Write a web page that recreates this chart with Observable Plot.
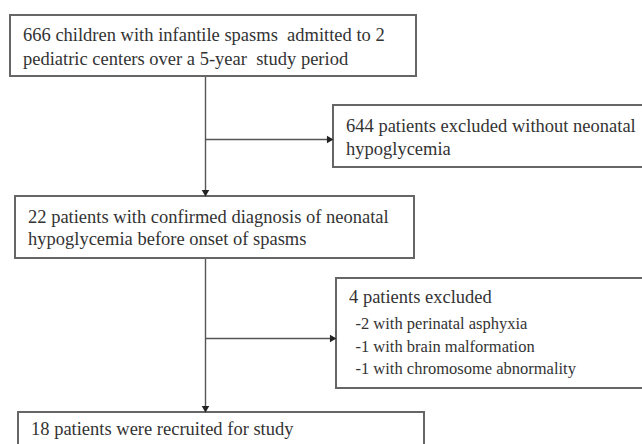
<!DOCTYPE html>
<html><head><meta charset="utf-8">
<script src="https://cdn.jsdelivr.net/npm/d3@7"></script>
<script src="https://cdn.jsdelivr.net/npm/@observablehq/plot@0.6"></script>
<style>html,body{margin:0;padding:0;background:#fff}svg{display:block}</style>
</head><body><div id="chart"></div>
<script>
// ---- data: flowchart steps ----
const stepNames = ["screened", "excludedNoHypo", "confirmed", "excludedOther", "recruited"];
const stepHeaders = [
  ["666 children with infantile spasms  admitted to 2", "pediatric centers over a 5-year  study period"],
  ["644 patients excluded without neonatal", "hypoglycemia"],
  ["22 patients with confirmed diagnosis of neonatal", "hypoglycemia before onset of spasms"],
  ["4 patients excluded"],
  ["18 patients were recruited for study"]
];
const stepItems = [
  [], [], [],
  ["-2 with perinatal asphyxia", "-1 with brain malformation", "-1 with chromosome abnormality"],
  []
];
const flowLinks = [["screened","confirmed"],["confirmed","recruited"]];
const sideLinks = [["screened","excludedNoHypo"],["confirmed","excludedOther"]];

// ---- layout (pixel space) ----
const boxLeft   = [10, 333, 15, 336, 18];
const boxRight  = [416, 660, 414, 660, 424];
const boxTop    = [15, 105, 196, 278, 412];
const boxBottom = [76, 167, 258, 388, 470];
const headerY   = [[35, 59], [126, 149], [217, 239], [297], [429]];
const itemY     = [[], [], [], [323, 346, 368], []];
const spineX = 205;
const sideY = [139, 338];
const serif = "Liberation Serif";

const idx = Object.fromEntries(stepNames.map((n, i) => [n, i]));
const boxes = stepNames.map((n, i) => ({x1: boxLeft[i], x2: boxRight[i], y1: boxTop[i], y2: boxBottom[i]}));
const headerRows = stepNames.flatMap((n, i) => stepHeaders[i].map((t, j) => ({x: boxLeft[i] + 12.5, y: headerY[i][j], t})));
const itemRows = stepNames.flatMap((n, i) => stepItems[i].map((t, j) => ({x: boxLeft[i] + 19, y: itemY[i][j], t})));
const vLinks = flowLinks.map(([a, b]) => ({x1: spineX, x2: spineX, y1: boxBottom[idx[a]], y2: boxTop[idx[b]]}));
const hLinks = sideLinks.map(([a, b], k) => ({x1: spineX, x2: boxLeft[idx[b]], y1: sideY[k], y2: sideY[k]}));
const tipOff = 4.4;
const heads = [
  ...vLinks.map(l => ({x: l.x2, y: l.y2 - tipOff, r: 180})),
  ...hLinks.map(l => ({x: l.x2 - tipOff, y: l.y2, r: 90}))
];

const chart = Plot.plot({
  width: 642, height: 444,
  margin: 0,
  x: {domain: [0, 642], range: [0, 642], axis: null},
  y: {domain: [0, 444], range: [0, 444], axis: null},
  style: {background: "#fff"},
  marks: [
    Plot.link([...vLinks, ...hLinks], {x1: "x1", x2: "x2", y1: "y1", y2: "y2", stroke: "#555", strokeWidth: 1.4}),
    Plot.rect(boxes, {x1: "x1", x2: "x2", y1: "y1", y2: "y2", fill: "#fff", stroke: "#666", strokeWidth: 2}),
    Plot.dot(heads, {x: "x", y: "y", rotate: "r", symbol: "triangle", r: 2.8, fill: "#222", stroke: "none"}),
    Plot.text(headerRows, {x: "x", y: "y", text: "t", textAnchor: "start", fontSize: 18.5, fontFamily: serif, fill: "#333"}),
    Plot.text(itemRows, {x: "x", y: "y", text: "t", textAnchor: "start", fontSize: 16.5, fontFamily: serif, fill: "#333"})
  ]
});
document.getElementById("chart").appendChild(chart);
</script>
</body></html>
